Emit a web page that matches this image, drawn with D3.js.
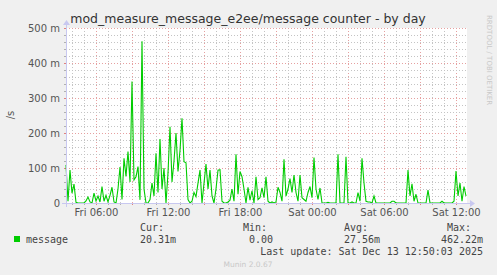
<!DOCTYPE html>
<html>
<head>
<meta charset="utf-8">
<script src="https://cdn.jsdelivr.net/npm/d3@7"></script>
<style>
  body { margin: 0; background: #f0f0f0; }
  svg { display: block; }
</style>
</head>
<body>
<div class="muninViz"></div>
<script>
// 10-minute samples, Fri 03:30 -> Sat 12:50 (milli-messages per second)
const startTime = new Date(2025, 11, 12, 3, 30);
const stepMinutes = 10;
const messageValues = [
  109, 5, 94, 28, 54, 2, 0, 0, 0, 0,
  6, 17, 3, 0, 28, 6, 20, 3, 47, 5,
  22, 3, 22, 45, 3, 0, 40, 103, 10, 128,
  76, 147, 60, 347, 66, 75, 104, 9, 462, 40,
  0, 0, 10, 57, 20, 142, 30, 183, 40, 100,
  0, 86, 218, 60, 120, 200, 90, 150, 242, 118,
  115, 10, 0, 5, 30, 18, 57, 94, 0, 56,
  111, 40, 94, 20, 0, 40, 94, 95, 5, 0,
  0, 3, 8, 40, 5, 139, 25, 90, 75, 40,
  0, 45, 8, 35, 0, 75, 10, 15, 43, 15,
  75, 5, 0, 3, 0, 3, 45, 30, 5, 125,
  20, 40, 70, 30, 80, 30, 5, 80, 15, 10,
  5, 30, 47, 15, 130, 40, 10, 43, 0, 0,
  0, 2, 0, 0, 0, 0, 139, 0, 0, 0,
  132, 0, 0, 3, 0, 0, 30, 5, 128, 57,
  5, 3, 3, 0, 20, 0, 0, 0, 0, 0,
  0, 0, 0, 5, 5, 0, 0, 0, 0, 0,
  0, 94, 20, 55, 5, 25, 0, 0, 0, 0,
  0, 37, 0, 0, 0, 0, 0, 0, 5, 0,
  0, 0, 0, 0, 5, 91, 20, 57, 5, 47,
  20
];
const yTicks = [0, 100, 200, 300, 400, 500];
const yTickLabels = ["0", "100 m", "200 m", "300 m", "400 m", "500 m"];
const xTickLabels = ["Fri 06:00", "Fri 12:00", "Fri 18:00", "Sat 00:00", "Sat 06:00", "Sat 12:00"];
const legendHeads = ["Cur:", "Min:", "Avg:", "Max:"];
const legendValues = ["20.31m", "0.00", "27.56m", "462.22m"];

const width = 497;
const height = 275;
const plot = { left: 66, right: 467, top: 28, bottom: 203 };
const green = "#00cc00";
const axisColor = "#c8c8f0";
const textColor = "#444";

const data = messageValues.map((v, i) => ({
  t: new Date(startTime.getTime() + i * stepMinutes * 60000),
  v: v
}));

const svg = d3
  .select(".muninViz")
  .append("svg")
  .attr("width", width)
  .attr("height", height);

svg.append("rect").attr("width", width).attr("height", height).attr("fill", "#f0f0f0");

const x = d3
  .scaleTime()
  .domain([startTime, new Date(startTime.getTime() + 200 * stepMinutes * 60000)])
  .range([plot.left, plot.right - 1]);
const y = d3.scaleLinear().domain([0, 500]).range([plot.bottom, plot.top]);

svg
  .append("rect")
  .attr("x", plot.left)
  .attr("y", plot.top)
  .attr("width", plot.right - plot.left)
  .attr("height", plot.bottom - plot.top)
  .attr("fill", "#ffffff");

// grid
const grid = svg.append("g").attr("shape-rendering", "crispEdges");
const hours = d3.timeHour.range(x.domain()[0], x.domain()[1]);
hours.forEach(h => {
  const major = h.getHours() % 3 === 0;
  const px = Math.round(x(h)) + 0.5;
  grid
    .append("line")
    .attr("x1", px)
    .attr("x2", px)
    .attr("y1", plot.top)
    .attr("y2", plot.bottom)
    .attr("stroke", major ? "#e6a0a0" : "#c4c4c4")
    .attr("stroke-dasharray", "1,2");
  grid
    .append("line")
    .attr("x1", px)
    .attr("x2", px)
    .attr("y1", plot.bottom)
    .attr("y2", plot.bottom + 2)
    .attr("stroke", major ? "#e08080" : "#b0b0b0");
});
d3.range(0, 501, 20).forEach(v => {
  const major = v % 100 === 0;
  const py = Math.round(y(v)) + 0.5;
  grid
    .append("line")
    .attr("x1", plot.left)
    .attr("x2", plot.right)
    .attr("y1", py)
    .attr("y2", py)
    .attr("stroke", major ? "#e6a0a0" : "#c4c4c4")
    .attr("stroke-dasharray", "1,2");
  grid
    .append("line")
    .attr("x1", plot.left - 2)
    .attr("x2", plot.left)
    .attr("y1", py)
    .attr("y2", py)
    .attr("stroke", major ? "#e08080" : "#b0b0b0");
});

// data line
svg
  .append("path")
  .datum(data)
  .attr("fill", "none")
  .attr("stroke", green)
  .attr("stroke-width", 1.1)
  .attr("d", d3.line().x(d => x(d.t)).y(d => y(d.v)));

// axes lines with arrows
const axes = svg.append("g").attr("shape-rendering", "crispEdges");
axes
  .append("line")
  .attr("x1", plot.left - 4)
  .attr("x2", plot.right + 4)
  .attr("y1", plot.bottom + 0.5)
  .attr("y2", plot.bottom + 0.5)
  .attr("stroke", axisColor);
axes
  .append("line")
  .attr("x1", plot.left + 0.5)
  .attr("x2", plot.left + 0.5)
  .attr("y1", plot.bottom + 4)
  .attr("y2", plot.top - 4)
  .attr("stroke", axisColor);
svg
  .append("path")
  .attr("d", `M${plot.right + 3},${plot.bottom - 3}L${plot.right + 8},${plot.bottom + 0.5}L${plot.right + 3},${plot.bottom + 4}Z`)
  .attr("fill", axisColor);
svg
  .append("path")
  .attr("d", `M${plot.left - 3},${plot.top - 3}L${plot.left + 0.5},${plot.top - 8}L${plot.left + 4},${plot.top - 3}Z`)
  .attr("fill", axisColor);

// tick labels
const yAxis = d3
  .axisLeft(y)
  .tickValues(yTicks)
  .tickFormat((d, i) => yTickLabels[i])
  .tickSize(0)
  .tickPadding(6);
svg
  .append("g")
  .attr("transform", `translate(${plot.left},0)`)
  .call(yAxis)
  .call(g => g.select(".domain").remove())
  .selectAll("text")
  .attr("font-family", "DejaVu Sans")
  .attr("font-size", 10)
  .attr("fill", "#555");

const xTickTimes = hours.filter(h => h.getHours() % 6 === 0);
const xAxis = d3
  .axisBottom(x)
  .tickValues(xTickTimes)
  .tickFormat((d, i) => xTickLabels[i])
  .tickSize(0)
  .tickPadding(6);
svg
  .append("g")
  .attr("transform", `translate(0,${plot.bottom})`)
  .call(xAxis)
  .call(g => g.select(".domain").remove())
  .selectAll("text")
  .attr("font-family", "DejaVu Sans")
  .attr("font-size", 10)
  .attr("fill", "#555");

// title & side texts
svg
  .append("text")
  .attr("x", 248)
  .attr("y", 23)
  .attr("text-anchor", "middle")
  .attr("font-family", "DejaVu Sans")
  .attr("font-size", 12.5)
  .attr("fill", "#333")
  .text("mod_measure_message_e2ee/message counter - by day");

svg
  .append("text")
  .attr("transform", "translate(14,115) rotate(-90)")
  .attr("text-anchor", "middle")
  .attr("font-family", "DejaVu Sans")
  .attr("font-size", 10)
  .attr("fill", "#555")
  .text("/s");

svg
  .append("text")
  .attr("transform", "translate(487,15) rotate(90)")
  .attr("font-family", "DejaVu Sans")
  .attr("font-size", 7)
  .attr("fill", "#c8c8c8")
  .text("RRDTOOL / TOBI OETIKER");

// legend
const legend = svg
  .append("g")
  .attr("font-family", "DejaVu Sans Mono")
  .attr("font-size", 10)
  .attr("fill", textColor);

legend
  .append("rect")
  .attr("x", 14)
  .attr("y", 236)
  .attr("width", 6)
  .attr("height", 6)
  .attr("fill", green);
legend.append("text").attr("x", 26).attr("y", 243).text("message");

const headX = [140, 243, 344, 447];
const valX = [140, 249, 344, 441];
legendHeads.forEach((h, i) => {
  legend.append("text").attr("x", headX[i]).attr("y", 231).text(h);
  legend.append("text").attr("x", valX[i]).attr("y", 243).text(legendValues[i]);
});
legend
  .append("text")
  .attr("x", 483)
  .attr("y", 255)
  .attr("text-anchor", "end")
  .text("Last update: Sat Dec 13 12:50:03 2025");

svg
  .append("text")
  .attr("x", 248)
  .attr("y", 267)
  .attr("text-anchor", "middle")
  .attr("font-family", "DejaVu Sans")
  .attr("font-size", 7.5)
  .attr("fill", "#c8c8c8")
  .text("Munin 2.0.67");
</script>
</body>
</html>
